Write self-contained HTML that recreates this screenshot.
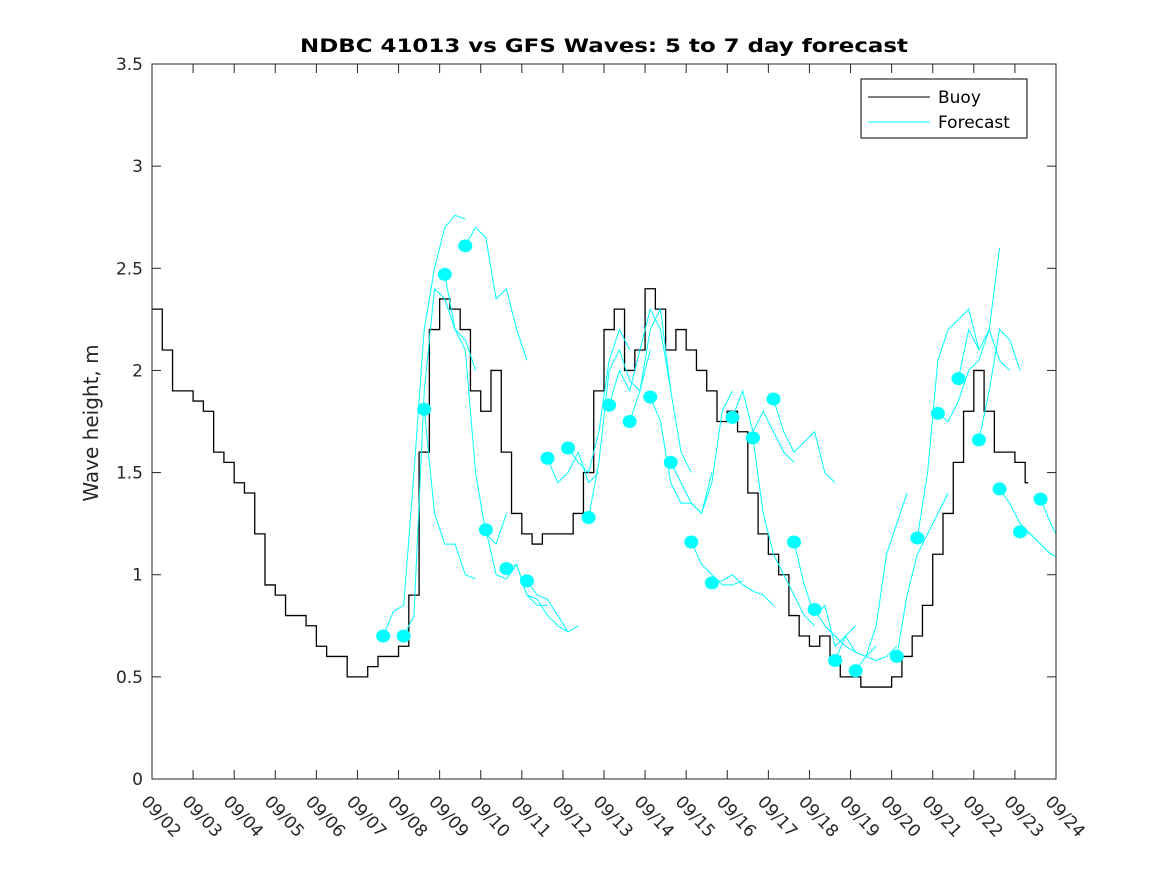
<!DOCTYPE html>
<html><head><meta charset="utf-8"><style>
body{margin:0;background:#fff}
svg{font-family:"DejaVu Sans","Liberation Sans",sans-serif}
</style></head><body>
<svg id="chart" width="1167" height="875" viewBox="0 0 1167 875" xmlns="http://www.w3.org/2000/svg">
<rect x="0" y="0" width="1167" height="875" fill="#fff"/>
<text x="604" y="52" font-size="19" font-weight="bold" text-anchor="middle" textLength="608" lengthAdjust="spacingAndGlyphs">NDBC 41013 vs GFS Waves: 5 to 7 day forecast</text>
<text transform="translate(98,423) rotate(-90)" font-size="20" text-anchor="middle" fill="#262626">Wave height, m</text>
<g id="plot"></g>
<g id="axes"></g>
<g>
<rect x="861" y="79" width="166" height="59" fill="#fff" stroke="#000" stroke-width="1"/>
<line x1="868" y1="97" x2="930" y2="97" stroke="#000"/>
<text x="938" y="103" font-size="17">Buoy</text>
<line x1="868" y1="122" x2="930" y2="122" stroke="#00ffff"/>
<text x="938" y="128" font-size="17">Forecast</text>
</g>
</svg>
<script>
const dayLabels=["09/02","09/03","09/04","09/05","09/06","09/07","09/08","09/09","09/10","09/11","09/12","09/13","09/14","09/15","09/16","09/17","09/18","09/19","09/20","09/21","09/22","09/23","09/24"];
const yTicks=[0,0.5,1,1.5,2,2.5,3,3.5];
// buoy, 6-hourly from 09/02 00:00
const buoyValues=[2.3,2.1,1.9,1.9, 1.85,1.8,1.6,1.55, 1.45,1.4,1.2,0.95, 0.9,0.8,0.8,0.75, 0.65,0.6,0.6,0.5, 0.5,0.55,0.6,0.6,
0.65,0.9,1.6,2.2, 2.35,2.3,2.2,1.9, 1.8,2.0,1.6,1.3, 1.2,1.15,1.2,1.2, 1.2,1.3,1.5,1.9, 2.2,2.3,2.0,2.1,
2.4,2.3,2.1,2.2, 2.1,2.0,1.9,1.75, 1.8,1.7,1.4,1.2, 1.1,1.0,0.8,0.7, 0.65,0.7,0.6,0.5, 0.5,0.45,0.45,0.45,
0.5,0.6,0.7,0.85, 1.1,1.3,1.55,1.8, 2.0,1.8,1.6,1.6, 1.55,1.45];
const buoyStep=0.25;
// forecast dots, 12-hourly starting 09/07 15:00
const fcStart=5.625;
const fcDots=[0.70,0.70,1.81,2.47,2.61,1.22,1.03,0.97,1.57,1.62,1.28,1.83,1.75,1.87,1.55,1.16,0.96,1.77,1.67,1.86,1.16,0.83,0.58,0.53,null,0.60,1.18,1.79,1.96,1.66,1.42,1.21,1.37];
// forecast lines, 6-hourly from each dot
const fcLines=[
[0.70,0.82,0.85,1.5,2.2,2.5,2.7,2.76,2.74],
[0.70,0.8,1.9,2.4,2.35,2.2,2.15,2.0],
[1.81,1.3,1.15,1.15,1.0,0.98],
[2.47,2.2,2.1,1.5,1.2,1.15,1.3],
[2.61,2.7,2.65,2.35,2.4,2.2,2.05],
[1.22,1.0,0.98,1.05,0.9,0.85,0.85],
[1.03,1.05,0.9,0.88,0.8,0.75,0.72],
[0.97,0.9,0.88,0.8,0.72,0.75],
[1.57,1.45,1.5,1.6,1.45,1.5],
[1.62,1.55,1.5,1.7,2.05,2.2,2.1],
[1.28,1.55,2.0,2.1,1.95,1.9,2.1],
[1.83,2.0,1.9,2.1,2.3,2.2,1.9],
[1.75,1.9,2.2,2.3,1.9,1.6,1.5],
[1.87,1.75,1.45,1.35,1.35,1.3,1.5],
[1.55,1.45,1.35,1.3,1.45,1.8,1.9],
[1.16,1.05,1.0,0.95,0.95,0.97],
[0.96,0.97,1.0,0.95,0.92,0.9,0.85],
[1.77,1.9,1.7,1.8,1.7,1.6,1.55],
[1.67,1.3,1.1,1.0,0.9,0.8,0.75],
[1.86,1.7,1.6,1.65,1.7,1.5,1.45],
[1.16,0.95,0.8,0.85,0.65,0.7,0.75],
[0.83,0.75,0.7,0.65,0.62,0.6,0.65],
[0.58,0.7,0.62,0.6,0.58,0.6,0.65],
[0.53,0.6,0.75,1.1,1.25,1.4],
[],
[0.60,0.9,1.1,1.2,1.3,1.4],
[1.18,1.5,2.05,2.2,2.25,2.3,2.1],
[1.79,1.75,1.85,2.0,2.05,2.2,2.6],
[1.96,2.2,2.1,2.2,2.05,2.0],
[1.66,1.9,2.2,2.15,2.0],
[1.42,1.35,1.25,1.2,1.15,1.1],
[1.21,1.2,1.15,1.1,1.08,1.05,1.0],
[1.37,1.25,1.15,1.1]];
const L=152,R=1056,T=64,B=779;
const xs=d=>L+(R-L)*d/22;
const ys=v=>B-(B-T)*v/3.5;
const NS="http://www.w3.org/2000/svg";
function mk(tag,attrs,parent){const e=document.createElementNS(NS,tag);for(const k in attrs)e.setAttribute(k,attrs[k]);parent.appendChild(e);return e;}
const plot=document.getElementById('plot'),axes=document.getElementById('axes');
const clip=mk('clipPath',{id:'pc'},plot);mk('rect',{x:L,y:T,width:R-L,height:B-T},clip);
const g=mk('g',{'clip-path':'url(#pc)'},plot);
let d='';
buoyValues.forEach((v,i)=>{const x1=xs(i*buoyStep),x2=xs((i+1)*buoyStep);d+=(i?'L':'M')+x1+','+ys(v)+'L'+(i==buoyValues.length-1?x1+3:x2)+','+ys(v);});
const bl=mk('path',{d:d,fill:'none',stroke:'#000','stroke-width':1.3},g);


fcLines.forEach((arr,i)=>{if(!arr.length)return;const t0=fcStart+0.5*i;
const p=arr.map((v,j)=>(j?'L':'M')+xs(t0+0.25*j)+','+ys(v)).join('');
const e=mk('path',{d:p,fill:'none',stroke:'#00ffff','stroke-width':1},g);

});
fcDots.forEach((v,i)=>{if(v==null)return;
const e=mk('ellipse',{cx:xs(fcStart+0.5*i),cy:ys(v),rx:7,ry:6.5,fill:'#00ffff'},g);

});
const box=mk('rect',{x:L,y:T,width:R-L,height:B-T,fill:'none',stroke:'#262626','stroke-width':1},axes);


yTicks.forEach(v=>{const y=ys(v);
mk('line',{x1:L,y1:y,x2:L+9,y2:y,stroke:'#262626'},axes);
mk('line',{x1:R,y1:y,x2:R-9,y2:y,stroke:'#262626'},axes);
const t=mk('text',{x:L-9,y:y+6,'font-size':17,'text-anchor':'end',fill:'#262626'},axes);
t.textContent=String(v);

});
dayLabels.forEach((s,i)=>{const x=xs(i);
mk('line',{x1:x,y1:B,x2:x,y2:B-9,stroke:'#262626'},axes);
mk('line',{x1:x,y1:T,x2:x,y2:T+9,stroke:'#262626'},axes);
const t=mk('text',{x:0,y:0,'font-size':17,'dominant-baseline':'middle',fill:'#262626',transform:'translate('+(x-8)+',799) rotate(47)'},axes);
t.textContent=s;

});
</script>
</body></html>
